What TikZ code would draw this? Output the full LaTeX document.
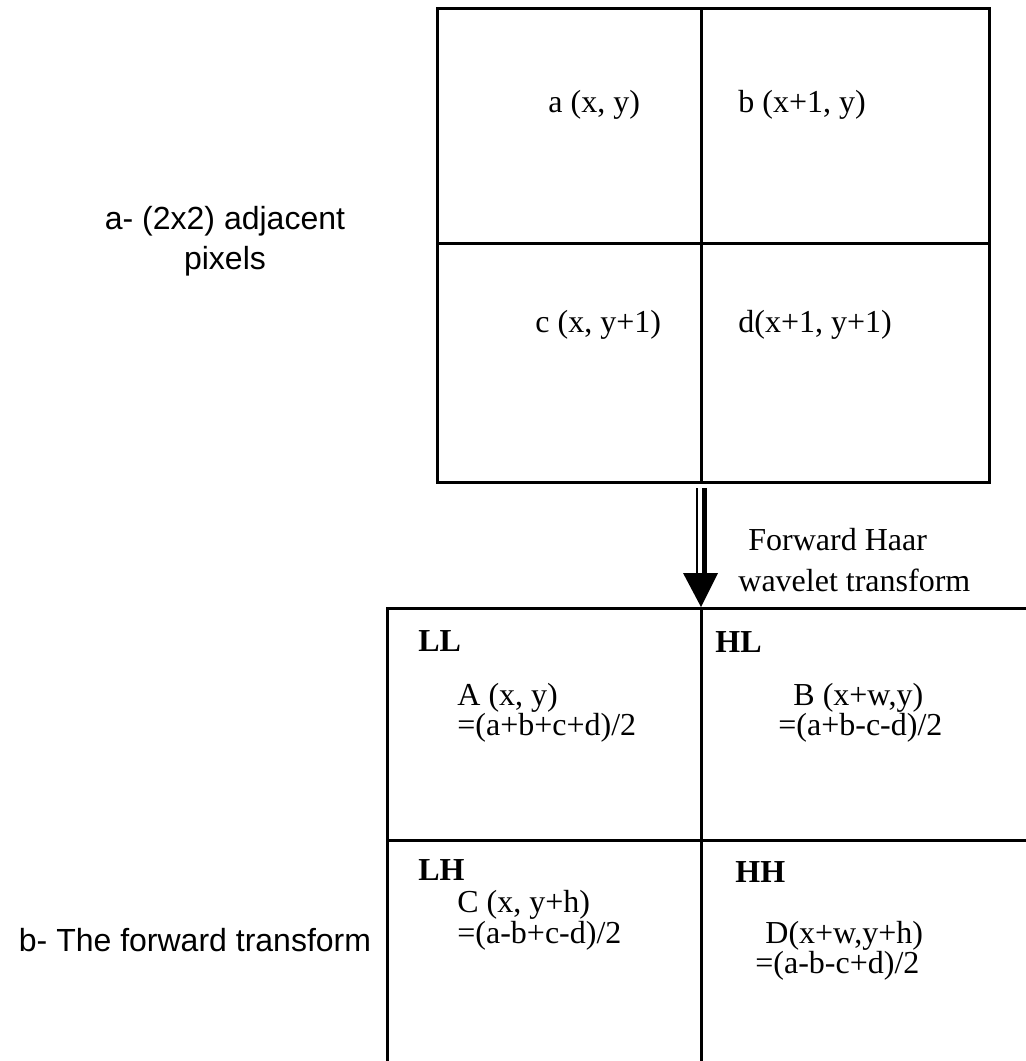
\documentclass[tikz,border=0pt]{standalone}
\usepackage{fontspec}
\setmainfont{Liberation Serif}
\setsansfont{Liberation Sans}
\usetikzlibrary{arrows.meta,positioning}

\begin{document}
\begin{tikzpicture}[x=0.5pt,y=-0.5pt,
  grid/.style={line width=1.5pt},
  celltext/.style={anchor=west,inner sep=0pt,font=\fontsize{16}{19}\selectfont},
  celltag/.style={celltext,font=\fontsize{16}{19}\selectfont\bfseries},
  sidetext/.style={align=center,inner sep=0pt,font=\sffamily\fontsize{16}{20}\selectfont}]
\useasboundingbox (0,0) rectangle (1026,1061);
% Top box: 2x2 adjacent pixels
\draw[grid] (437,8) rectangle (989,482);
\draw[grid] (701,8) -- (701,482);
\draw[grid] (437,243) -- (989,243);
\node[celltext] (pa) at (548,105) {a (x, y)};
\node[celltext] (pb) at (738,105) {b (x+1, y)};
\node[celltext] (pc) at (535,325) {c (x, y+1)};
\node[celltext] (pd) at (738,325) {d(x+1, y+1)};
\node[sidetext] (lbla) at (225,241) {a- (2x2) adjacent\\pixels};
% Transform arrow
\coordinate (arrtop) at (701,488);
\coordinate (arrbot) at (701,607);
\draw[line width=1pt] ([xshift=-2pt]arrtop) -- ([xshift=-2pt,yshift=17pt]arrbot);
\draw[line width=2.5pt] ([xshift=1.7pt]arrtop) -- ([xshift=1.7pt,yshift=17pt]arrbot);
\fill ([xshift=-9pt,yshift=17pt]arrbot) -- ([xshift=8.5pt,yshift=17pt]arrbot) -- (arrbot) -- cycle;
\node[celltext] (fw1) at (748,540) {Forward Haar};
\node[celltext] (fw2) at (738,580) {wavelet transform};
% Bottom box: the four sub-bands
\draw[grid] (1026,608) -- (387,608) -- (387,1061);
\draw[grid] (701,608) -- (701,1061);
\draw[grid] (387,840) -- (1026,840);
\node[celltag] (ll) at (418,641) {LL};
\node[celltext] (qa1) at (457,698) {A (x, y)};
\node[celltext] (qa2) at (457,728) {=(a+b+c+d)/2};
\node[celltag] (hl) at (715,642) {HL};
\node[celltext] (qb1) at (793,698) {B (x+w,y)};
\node[celltext] (qb2) at (778,728) {=(a+b-c-d)/2};
\node[celltag] (lh) at (418,870) {LH};
\node[celltext] (qc1) at (457,905) {C (x, y+h)};
\node[celltext] (qc2) at (457,936) {=(a-b+c-d)/2};
\node[celltag] (hh) at (735,872) {HH};
\node[celltext] (qd1) at (765,936) {D(x+w,y+h)};
\node[celltext] (qd2) at (755,966) {=(a-b-c+d)/2};
\node[sidetext] (lblb) at (195,940) {b- The forward transform};
\end{tikzpicture}
\end{document}
